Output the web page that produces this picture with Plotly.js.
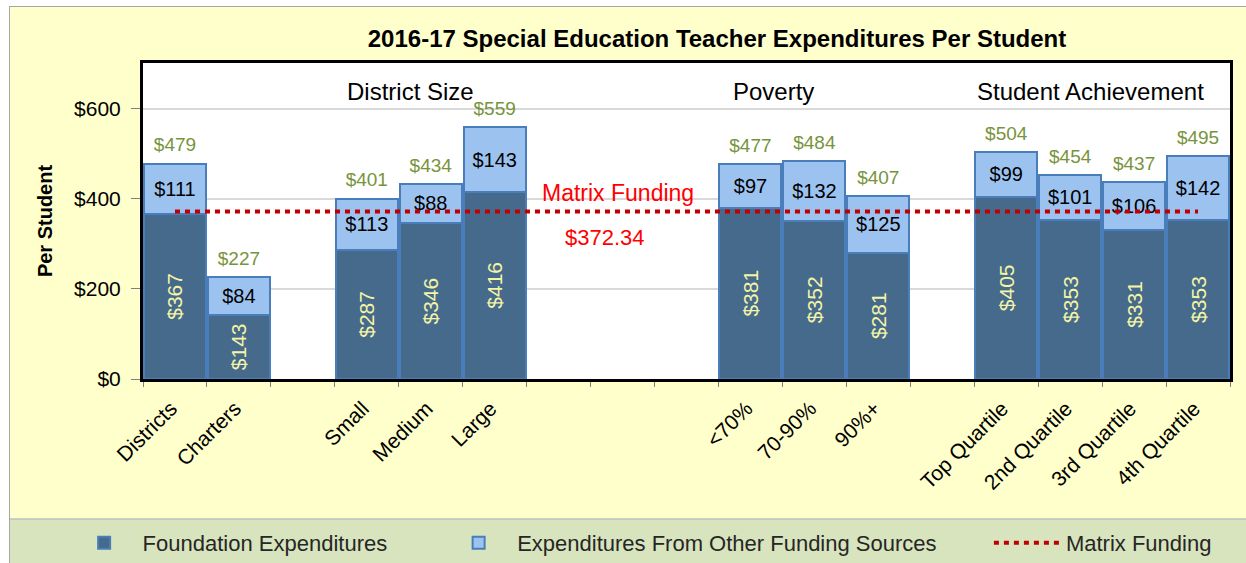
<!DOCTYPE html>
<html>
<head>
<meta charset="utf-8">
<script src="https://cdn.plot.ly/plotly-3.0.1.min.js"></script>
<style>
  html, body { margin: 0; padding: 0; background: #ffffff; width: 1246px; height: 563px; overflow: hidden; }
  #chart { position: absolute; left: 10px; top: 7px; width: 1236px; height: 556px; outline: 1px solid #A6A6A6; }
</style>
</head>
<body>
<div id="chart"></div>
<script>
// ---- data ----
const categories = ['Districts', 'Charters', ' ', 'Small', 'Medium', 'Large', '  ', '   ', '    ',
  '<70%', '70-90%', '90%+', '     ', 'Top Quartile', '2nd Quartile', '3rd Quartile', '4th Quartile'];
const foundation = [367, 143, null, 287, 346, 416, null, null, null, 381, 352, 281, null, 405, 353, 331, 353];
const otherSources = [111, 84, null, 113, 88, 143, null, null, null, 97, 132, 125, null, 99, 101, 106, 142];
const totals = [479, 227, null, 401, 434, 559, null, null, null, 477, 484, 407, null, 504, 454, 437, 495];
const matrixFunding = 372.34;
const matrixSpan = ['Districts', '4th Quartile'];
const yTicks = [0, 200, 400, 600];
const yTickText = ['$0', '$200', '$400', '$600'];

const FONT = "'Liberation Sans', Arial, sans-serif";
const money = v => (v === null ? '' : '$' + v);

const traces = [
  {
    type: 'bar', name: 'Foundation Expenditures', legend: 'legend',
    x: categories, y: foundation,
    text: foundation.map(money), textposition: 'inside', insidetextanchor: 'middle',
    textangle: -90, constraintext: 'none',
    textfont: { family: FONT, size: 21, color: '#F4F4A6' },
    marker: { color: '#466A8C', line: { color: '#4A7EBB', width: 2 } },
    hoverinfo: 'skip'
  },
  {
    type: 'bar', name: 'Expenditures From Other Funding Sources', legend: 'legend2',
    x: categories, y: otherSources,
    text: otherSources.map(money), textposition: 'inside', insidetextanchor: 'middle',
    textangle: 0, constraintext: 'none',
    textfont: { family: FONT, size: 20, color: '#000000' },
    marker: { color: '#9CC3F0', line: { color: '#4A7EBB', width: 2 } },
    hoverinfo: 'skip'
  },
  {
    type: 'scatter', mode: 'markers+text', showlegend: false,
    x: categories, y: totals,
    marker: { size: 10, color: 'rgba(0,0,0,0)' },
    text: totals.map(money), textposition: 'top center',
    textfont: { family: FONT, size: 19, color: '#77933C' },
    hoverinfo: 'skip', cliponaxis: false
  },
  {
    type: 'scatter', mode: 'lines', name: 'Matrix Funding', legend: 'legend3',
    x: matrixSpan, y: [matrixFunding, matrixFunding],
    line: { color: '#C00000', width: 4, dash: '5px,5px' },
    hoverinfo: 'skip'
  }
];

const legendBase = {
  orientation: 'h', xref: 'container', xanchor: 'left',
  yref: 'container', y: 0.036, yanchor: 'middle',
  font: { family: FONT, size: 22, color: '#262626' },
  bgcolor: 'rgba(0,0,0,0)', itemwidth: 67
};

const layout = {
  width: 1236, height: 556,
  margin: { l: 133, r: 16, t: 56, b: 184 },
  paper_bgcolor: '#FFFFCC', plot_bgcolor: '#FFFFFF',
  barmode: 'stack', bargap: 0.03,
  font: { family: FONT, color: '#000000' },
  title: {
    text: '<b>2016-17 Special Education Teacher Expenditures Per Student</b>',
    font: { family: FONT, size: 24, color: '#000000' },
    xref: 'container', x: 0.572, xanchor: 'center',
    yref: 'container', y: 0.944, yanchor: 'middle'
  },
  xaxis: {
    type: 'category', categoryorder: 'array', categoryarray: categories,
    range: [-0.5, categories.length - 0.5],
    tickangle: -45, tickfont: { family: FONT, size: 21, color: '#000000' },
    ticks: 'outside', ticklen: 5, tickcolor: '#7F7F7F', tickson: 'boundaries',
    ticklabelstandoff: 6, ticklabelshift: -4,
    showline: true, linecolor: '#000000', linewidth: 3, mirror: true,
    showgrid: false, fixedrange: true, automargin: false
  },
  yaxis: {
    range: [0, 702], tickmode: 'array', tickvals: yTicks, ticktext: yTickText,
    tickfont: { family: FONT, size: 21, color: '#000000' },
    ticks: 'outside', ticklen: 9, tickcolor: '#7F7F7F', ticklabelstandoff: 6,
    showline: true, linecolor: '#000000', linewidth: 3, mirror: true,
    showgrid: true, gridcolor: '#D9D9D9', gridwidth: 2, zeroline: false,
    title: { text: '<b>Per Student</b>', font: { family: FONT, size: 20, color: '#000000' }, standoff: 17 },
    fixedrange: true, automargin: false
  },
  legend: Object.assign({}, legendBase, { x: 0.045 }),
  legend2: Object.assign({}, legendBase, { x: 0.348 }),
  legend3: Object.assign({}, legendBase, { x: 0.792 }),
  shapes: [
    { type: 'rect', xref: 'paper', yref: 'paper', x0: -0.13, x1: 1.02, y0: -0.443, y1: -0.6,
      fillcolor: '#D7E4BD', line: { color: '#BFBFBF', width: 1.5 }, layer: 'below' }
  ],
  annotations: [
    { text: 'District Size', x: 'Medium', y: 638, xref: 'x', yref: 'y', xshift: -20, showarrow: false,
      font: { family: FONT, size: 24, color: '#000000' } },
    { text: 'Poverty', x: '<70%', y: 638, xref: 'x', yref: 'y', xshift: 23, showarrow: false,
      font: { family: FONT, size: 24, color: '#000000' } },
    { text: 'Student Achievement', x: '2nd Quartile', y: 638, xref: 'x', yref: 'y', xshift: 20, showarrow: false,
      font: { family: FONT, size: 24, color: '#000000' } },
    { text: 'Matrix Funding', x: '    ', y: matrixFunding, xref: 'x', yref: 'y', xshift: -69, yshift: 18, showarrow: false,
      font: { family: FONT, size: 23, color: '#FF0000' } },
    { text: '$372.34', x: '    ', y: matrixFunding, xref: 'x', yref: 'y', xshift: -82, yshift: -26, showarrow: false,
      font: { family: FONT, size: 22, color: '#FF0000' } }
  ]
};

Plotly.newPlot('chart', traces, layout, { displayModeBar: false, staticPlot: true });
</script>
</body>
</html>
